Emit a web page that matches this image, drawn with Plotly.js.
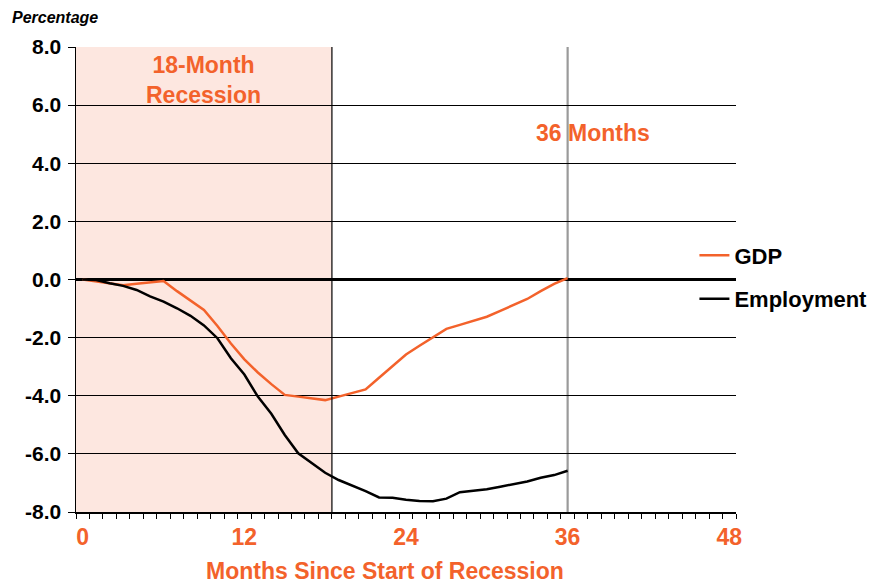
<!DOCTYPE html>
<html>
<head>
<meta charset="utf-8">
<script src="https://cdn.plot.ly/plotly-3.0.1.min.js"></script>
<style>html,body{margin:0;padding:0;background:#fff;}</style>
</head>
<body>
<div id="chart" style="width:874px;height:583px;"></div>
<script>
// Months since start of recession
const months = [0,1,2,3,4,5,6,7,8,9,10,11,12,13,14,15,16,17,18,19,20,21,22,23,24,25,26,27,28,29,30,31,32,33,34,35,36];
// GDP, % change from start of recession
const gdp = [0.0,-0.07,-0.14,-0.2,-0.15,-0.1,-0.05,-0.4,-0.72,-1.05,-1.6,-2.2,-2.75,-3.2,-3.6,-3.97,-4.03,-4.1,-4.15,-4.03,-3.9,-3.78,-3.38,-2.98,-2.58,-2.28,-1.98,-1.7,-1.56,-1.42,-1.28,-1.08,-0.88,-0.67,-0.4,-0.15,0.05];
// Employment, % change from start of recession
const employment = [0.0,-0.02,-0.13,-0.22,-0.36,-0.58,-0.76,-0.99,-1.25,-1.58,-2.02,-2.71,-3.27,-4.03,-4.62,-5.35,-5.98,-6.33,-6.65,-6.9,-7.08,-7.28,-7.5,-7.51,-7.58,-7.62,-7.63,-7.54,-7.32,-7.27,-7.22,-7.13,-7.04,-6.95,-6.82,-6.73,-6.58];
const xTickVals = [0,12,24,36,48];
const xTickText = ['0','12','24','36','48'];
const yTickVals = [-8,-6,-4,-2,0,2,4,6,8];
const yTickText = ['-8.0','-6.0','-4.0','-2.0','0.0','2.0','4.0','6.0','8.0'];
const recessionEnd = 18.5;
const markerMonth = 36;

const ORANGE = '#F3622B';
const FONT = 'Liberation Sans, Arial, sans-serif';

const traces = [
  {x: months, y: gdp, type: 'scatter', mode: 'lines', name: 'GDP',
   line: {color: ORANGE, width: 2.5}, legendgroup: 'a'},
  {x: months, y: employment, type: 'scatter', mode: 'lines', name: 'Employment',
   line: {color: '#000000', width: 2.5}, legendgroup: 'b'}
];

const layout = {
  width: 874, height: 583,
  margin: {l: 76, r: 138, t: 47, b: 71, autoexpand: false},
  paper_bgcolor: '#fff', plot_bgcolor: '#fff',
  font: {family: FONT, color: '#000'},
  showlegend: true,
  legend: {x: 0.937, xanchor: 'left', y: 0.597, yanchor: 'top',
           font: {family: FONT, size: 22, weight: 'bold', color: '#000'},
           bgcolor: 'rgba(0,0,0,0)', itemwidth: 30, tracegroupgap: 12,
           traceorder: 'grouped'},
  xaxis: {
    range: [-0.5, 48.5], tickmode: 'array', tickvals: xTickVals, ticktext: xTickText,
    ticks: '', showgrid: false, zeroline: false,
    showline: true, linecolor: '#000', linewidth: 1.5,
    tickfont: {family: FONT, size: 23, weight: 'bold', color: ORANGE},
    ticklabelstandoff: 4,
    minor: {tick0: 0.5, dtick: 1, ticks: 'outside', ticklen: 5, tickcolor: '#000', tickwidth: 1, showgrid: false}
  },
  yaxis: {
    range: [-8, 8], tickmode: 'array', tickvals: yTickVals, ticktext: yTickText,
    ticks: 'outside', ticklen: 7, tickcolor: '#000', tickwidth: 1,
    showgrid: true, gridcolor: '#000', gridwidth: 1,
    zeroline: true, zerolinecolor: '#000', zerolinewidth: 2.5,
    showline: true, linecolor: '#000', linewidth: 1.5,
    tickfont: {family: FONT, size: 21, weight: 'bold', color: '#000'},
    ticklabelstandoff: 2
  },
  shapes: [
    {type: 'rect', xref: 'x', yref: 'y', x0: -0.5, x1: recessionEnd, y0: -8, y1: 8,
     fillcolor: '#FDE7E0', line: {width: 0}, layer: 'below'},
    {type: 'line', xref: 'x', yref: 'y', x0: recessionEnd, x1: recessionEnd, y0: -8, y1: 8,
     line: {color: '#000', width: 1.2}},
    {type: 'line', xref: 'x', yref: 'y', x0: markerMonth, x1: markerMonth, y0: -8, y1: 8,
     line: {color: '#9a9a9a', width: 2.2}, layer: 'below'}
  ],
  annotations: [
    {xref: 'paper', yref: 'paper', x: -0.1, y: 1.064, xanchor: 'left', yanchor: 'middle',
     showarrow: false, text: '<i>Percentage</i>',
     font: {family: FONT, size: 16, weight: 'bold', color: '#000'}},
    {xref: 'paper', yref: 'paper', x: 0.468, y: -0.127, xanchor: 'center', yanchor: 'middle',
     showarrow: false, text: 'Months Since Start of Recession',
     font: {family: FONT, size: 23, weight: 'bold', color: ORANGE}},
    {xref: 'x', yref: 'y', x: 9, y: 6.86, xanchor: 'center', yanchor: 'middle',
     showarrow: false, text: '18-Month<br>Recession',
     font: {family: FONT, size: 23, weight: 'bold', color: ORANGE}},
    {xref: 'x', yref: 'y', x: 37.9, y: 5.04, xanchor: 'center', yanchor: 'middle',
     showarrow: false, text: '36 Months',
     font: {family: FONT, size: 23, weight: 'bold', color: ORANGE}}
  ]
};

Plotly.newPlot('chart', traces, layout, {displayModeBar: false, staticPlot: true});
</script>
</body>
</html>
